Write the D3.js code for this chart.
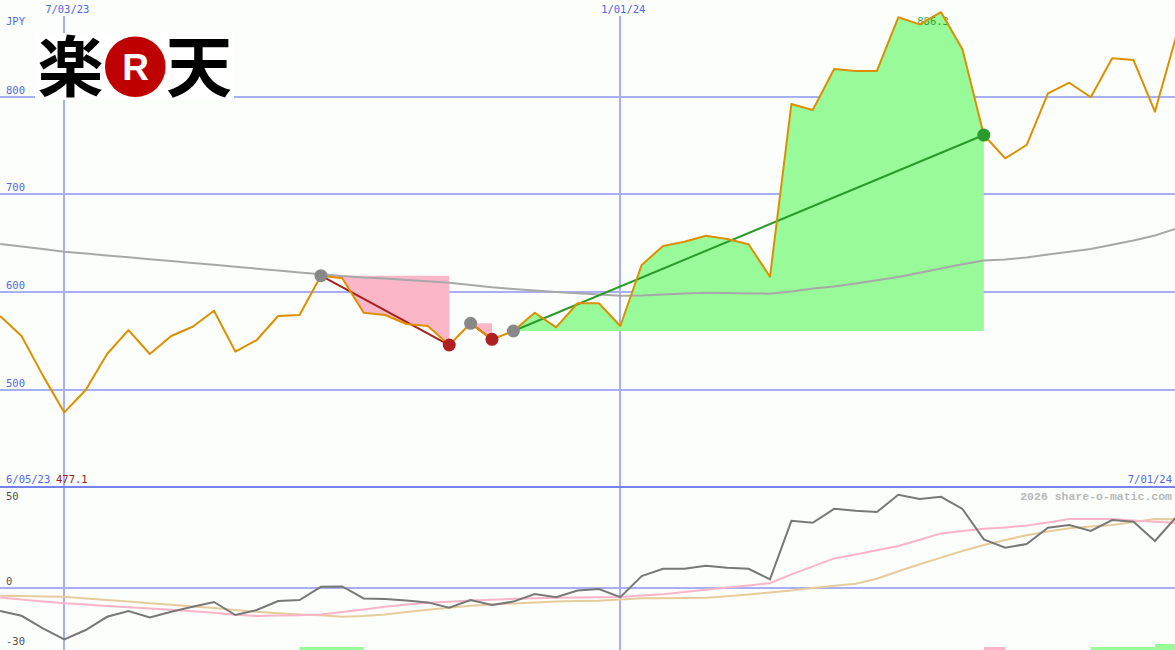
<!DOCTYPE html>
<html><head><meta charset="utf-8">
<script src="https://cdn.jsdelivr.net/npm/d3@7"></script>
<style>html,body{margin:0;padding:0;background:#fbfefb;overflow:hidden}</style>
</head><body><svg id="c" width="1175" height="650"></svg>
<script>
// ---- data ----
const startDate = "2023-06-12"; // first weekly point
const price = [575.7,555.2,514.7,477.1,500,536.8,561.3,536.8,555.2,564.7,581.1,539.2,551.1,575.7,576.7,616.9,614.2,579,576.7,567.5,565.4,546,568.2,551.8,560.3,579,564.1,588.7,588.7,565.4,627.8,647.2,651.6,657.8,654.4,649,615.8,792.4,786.3,828.2,826.2,826.2,881.1,873.9,886.3,848.4,760.7,736.9,750.5,803.4,814.2,799.3,839.2,837.4,784.6,862];
const movingAvg = [649.3,646.7,644.2,641.4,639.5,637.6,635.7,633.7,631.9,629.9,628,626.1,624.1,622.2,620.2,618.3,616.6,615,614,612.5,611.1,609.7,607.4,605,603.3,601.7,600.2,598.9,597.6,596.4,596.6,597.6,598.7,599.4,599.2,598.7,598.5,600.7,603.8,605.8,608.9,612.3,615.5,619.9,624.2,628.5,632.3,633.4,635.5,638.5,641.3,644.2,648.5,652.9,658,665.1];
const relStrength = [-11.5,-13.9,-20.2,-25.7,-21,-14.4,-11.5,-14.7,-11.9,-9.4,-7,-13.5,-11,-6.5,-6,0.6,0.8,-5.2,-5.5,-6.2,-7.2,-9.8,-6,-8.5,-6.8,-3,-4.6,-1.3,-0.5,-4.6,6,9.6,9.6,11.1,10.1,9.6,4.3,33.6,32.6,39.6,38.6,38,46.6,44.5,45.6,39.5,24.3,20.1,22,30.1,31.5,28.5,34,33.1,23.5,35.5];
const relFast = [-4.8,-5.7,-6.7,-7.6,-8.3,-9,-9.6,-10.2,-10.9,-11.6,-12.4,-13.4,-14,-13.8,-13.6,-13.3,-12,-10.7,-9.4,-8.3,-7.4,-6.9,-6.3,-5.9,-5.4,-5.1,-4.9,-4.7,-4.6,-4.5,-3.8,-3.1,-2,-0.9,0.3,1.3,2.4,6.8,10.8,14.8,16.8,18.9,21,24.1,27.3,28.5,29.6,30.3,31.2,32.8,34.5,34.5,34.5,33.8,33.1,32.6];
const relSlow = [-3.9,-4,-4.2,-4.4,-5.2,-6,-6.8,-7.6,-8.4,-9.2,-10,-11,-11.9,-12.6,-13.2,-13.6,-14.4,-14,-13.2,-12,-10.9,-9.9,-8.9,-8.3,-7.7,-7.2,-6.8,-6.5,-6.4,-5.7,-5.1,-5.1,-5,-4.9,-4.1,-3.2,-2.3,-1.2,0,1.1,2.1,4.6,8.4,11.9,15.2,18.5,21.5,24,26.4,28.2,29.9,30.7,31.5,33,34.5,34.4];
const priceTicks = [500, 600, 700, 800];
const dateTicks = ["2023-07-03", "2024-01-01"];
const dateTickLabels = ["7/03/23", "1/01/24"];
const lowerTicks = [50, 0, -30];
const tradeEntry = [15, 22, 24];   // indices into series
const tradeExit  = [21, 23, 46];
const tradeWin   = [false, false, true];
const signalStart = [14, 46, 51, 54];
const signalEnd   = [17, 47, 54, 55];
const signalLevel = [1, 1, 1, 2];
const signalBuy   = [true, false, true, true];
const currency = "JPY";
const lowerLeftDate = "6/05/23";
const lowerRightDate = "7/01/24";
const credit = "2026 share-o-matic.com";

// ---- setup ----
const parse = d3.timeParse("%Y-%m-%d");
const start = parse(startDate);
const dates = price.map((_, i) => d3.timeDay.offset(start, 7 * i));
const W = 1175, H = 650;
const svg = d3.select("#c");
svg.append("rect").attr("width", W).attr("height", H).attr("fill", "#fbfefb");

const x = d3.scaleTime().domain([parse(dateTicks[0]), parse(dateTicks[1])]).range([64.3, 620.3]);
const yT = d3.scaleLinear().domain([500, 800]).range([390, 96.6]);
const yB = d3.scaleLinear().domain([-30, 50]).range([648, 488]);
const yS = d3.scaleLinear().domain([0, 2]).range([650, 644]);

const mono = "'DejaVu Sans Mono', 'Liberation Mono', monospace";
const gridC = "#a6b0f2", labC = "#5566e6";

const topG = svg.append("g");
svg.append("clipPath").attr("id", "tc").append("rect").attr("x", 0).attr("y", 0).attr("width", W).attr("height", 487);

// horizontal price grid
topG.selectAll("line.hg").data(priceTicks).join("line")
  .attr("x1", 0).attr("x2", W).attr("y1", d => yT(d)).attr("y2", d => yT(d))
  .attr("stroke", gridC).attr("stroke-width", 2).attr("shape-rendering", "crispEdges");
topG.selectAll("text.hl").data(priceTicks).join("text")
  .attr("x", 6).attr("y", d => yT(d) - 3).text(d => d)
  .attr("font-family", mono).attr("font-size", 10.5).attr("fill", labC);

// vertical date grid
svg.selectAll("line.vg").data(dateTicks).join("line")
  .attr("x1", d => x(parse(d))).attr("x2", d => x(parse(d))).attr("y1", 16).attr("y2", H)
  .attr("stroke", gridC).attr("stroke-width", 2).attr("shape-rendering", "crispEdges");
svg.selectAll("text.vl").data(dateTicks).join("text")
  .attr("x", d => x(parse(d)) + 3).attr("y", 13).attr("text-anchor", "middle")
  .text((d, i) => dateTickLabels[i])
  .attr("font-family", mono).attr("font-size", 10.5).attr("fill", labC);
svg.append("text").attr("x", 6).attr("y", 25).text(currency)
  .attr("font-family", mono).attr("font-size", 10.5).attr("fill", labC);

// trade fills
const plot = svg.append("g").attr("clip-path", "url(#tc)");
tradeEntry.forEach((e, t) => {
  const idx = d3.range(e, tradeExit[t] + 1);
  const base = price[e];
  plot.append("path")
    .datum(idx)
    .attr("d", d3.area().x(i => x(dates[i])).y0(yT(base)).y1(i => yT(price[i])))
    .attr("fill", tradeWin[t] ? "#98fa98" : "#fbb6c8");
});

// max label
const maxI = d3.maxIndex(price);
plot.append("text").attr("x", x(dates[maxI]) - 8).attr("y", yT(price[maxI]) + 13)
  .attr("text-anchor", "middle").text(price[maxI].toFixed(1))
  .attr("font-family", mono).attr("font-size", 10.5).attr("fill", "#33a033");

// moving average
plot.append("path").datum(movingAvg)
  .attr("d", d3.line().x((d, i) => x(dates[i])).y(d => yT(d)))
  .attr("fill", "none").attr("stroke", "#a8a8a8").attr("stroke-width", 2);

// trade lines
tradeEntry.forEach((e, t) => {
  const o = tradeExit[t];
  plot.append("line")
    .attr("x1", x(dates[e])).attr("y1", yT(price[e]))
    .attr("x2", x(dates[o])).attr("y2", yT(price[o]))
    .attr("stroke", tradeWin[t] ? "#2a9a2a" : "#a82020").attr("stroke-width", 2);
});

// price line
plot.append("path").datum(price)
  .attr("d", d3.line().x((d, i) => x(dates[i])).y(d => yT(d)))
  .attr("fill", "none").attr("stroke", "#dc9000").attr("stroke-width", 2).attr("stroke-linejoin", "round");

// trade dots
tradeEntry.forEach((e, t) => {
  const o = tradeExit[t];
  plot.append("circle").attr("cx", x(dates[e])).attr("cy", yT(price[e])).attr("r", 6.5).attr("fill", "#888");
  plot.append("circle").attr("cx", x(dates[o])).attr("cy", yT(price[o])).attr("r", 6.5)
    .attr("fill", tradeWin[t] ? "#2a9a2a" : "#b02020");
});

// logo
const logo = svg.append("g");
logo.append("rect").attr("x", 35).attr("y", 33).attr("width", 199).attr("height", 67).attr("fill", "#ffffff");
const cjk = "'Noto Sans CJK JP', 'Noto Sans CJK SC', sans-serif";
logo.append("text").attr("x", 70.5).attr("y", 91).attr("text-anchor", "middle")
  .attr("font-family", cjk).attr("font-weight", 700).attr("font-size", 66).attr("fill", "#000").text("楽");
logo.append("circle").attr("cx", 135.3).attr("cy", 66.7).attr("r", 30.3).attr("fill", "#bf0000");
logo.append("text").attr("x", 135.5).attr("y", 80).attr("text-anchor", "middle")
  .attr("font-family", "'Liberation Sans', Arial, sans-serif").attr("font-weight", 700).attr("font-size", 37).attr("fill", "#fff").text("R");
logo.append("text").attr("x", 199).attr("y", 91).attr("text-anchor", "middle")
  .attr("font-family", cjk).attr("font-weight", 700).attr("font-size", 66).attr("fill", "#000").text("天");

// ---- lower panel ----
const low = svg.append("g");
low.append("line").attr("x1", 0).attr("x2", W).attr("y1", yB(0)).attr("y2", yB(0))
  .attr("stroke", gridC).attr("stroke-width", 2).attr("shape-rendering", "crispEdges");
low.append("line").attr("x1", 0).attr("x2", W).attr("y1", 487).attr("y2", 487)
  .attr("stroke", "#7682ee").attr("stroke-width", 2.5).attr("shape-rendering", "crispEdges");

low.append("text").attr("x", 6).attr("y", 483).text(lowerLeftDate)
  .attr("font-family", mono).attr("font-size", 10.5).attr("fill", labC);
low.append("text").attr("x", 56).attr("y", 483).text(d3.min(price).toFixed(1))
  .attr("font-family", mono).attr("font-size", 10.5).attr("fill", "#a01818");
low.append("text").attr("x", 1172).attr("y", 483).attr("text-anchor", "end").text(lowerRightDate)
  .attr("font-family", mono).attr("font-size", 10.5).attr("fill", labC);
low.append("text").attr("x", 1172).attr("y", 500).attr("text-anchor", "end").text(credit)
  .attr("font-family", "'Liberation Mono', 'DejaVu Sans Mono', monospace").attr("font-weight", 700)
  .attr("font-size", 11.5).attr("fill", "#b8b8b8");
low.selectAll("text.ll").data(lowerTicks).join("text")
  .attr("x", 6).attr("y", d => d === 50 ? yB(d) + 11.5 : yB(d) - 3).text(d => d)
  .attr("font-family", mono).attr("font-size", 10.5).attr("fill", "#505050");

const lineB = d3.line().x((d, i) => x(dates[i])).y(d => yB(d));
low.append("path").datum(relSlow).attr("d", lineB).attr("fill", "none").attr("stroke", "#e6cc9c").attr("stroke-width", 2);
low.append("path").datum(relFast).attr("d", lineB).attr("fill", "none").attr("stroke", "#fbb4c8").attr("stroke-width", 2);
low.append("path").datum(relStrength).attr("d", lineB).attr("fill", "none").attr("stroke", "#787878").attr("stroke-width", 2);

// signal bars
signalStart.forEach((s, j) => {
  const x0 = x(dates[s]), x1 = x(dates[signalEnd[j]]);
  low.append("rect").attr("x", x0).attr("width", x1 - x0)
    .attr("y", yS(signalLevel[j])).attr("height", H - yS(signalLevel[j]))
    .attr("fill", signalBuy[j] ? "#98fa98" : "#fbb4c8");
});
</script>
</body></html>
